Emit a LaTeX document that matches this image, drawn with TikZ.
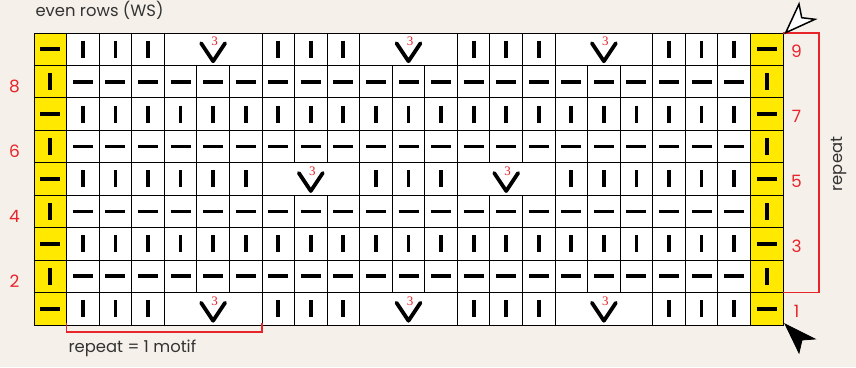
\documentclass[tikz,border=0pt]{standalone}
\usepackage{fontspec}
\setmainfont{Poppins}
\newfontfamily\countfont{Liberation Serif}
\usetikzlibrary{positioning}

\definecolor{paper}{HTML}{F5F1EA}
\definecolor{chartred}{HTML}{E8242B}
\definecolor{edgeyellow}{HTML}{FFE900}
\definecolor{ink}{HTML}{333333}

% chart geometry (cell size and top-left corner)
\def\cw{32.565}
\def\ch{32.44}
\def\gx{34}
\def\gy{33}

\begin{document}
\begin{tikzpicture}[
    x=1pt, y=-1pt,
    cell/.style={
        draw=black,
        line width=0.9pt
    },
    plaincell/.style={
        cell,
        fill=white
    },
    edgecell/.style={
        cell,
        fill=edgeyellow
    },
    stitch/.style={
        line width=3.8pt,
        black
    },
    decmark/.style={
        line width=3.8pt,
        line cap=round,
        line join=round,
        black
    },
    rownum/.style={
        text=chartred,
        font=\fontsize{17}{17}\selectfont
    },
    note/.style={
        text=ink,
        font=\fontsize{16.4}{17}\selectfont
    },
    bracket/.style={
        draw=chartred,
        line width=1.1pt
    },
    knit/.pic={\draw[stitch] (0,-8.5) -- (0,8.5);},
    purl/.pic={\draw[stitch] (-10,0) -- (10,0);},
    dec/.pic={
        \draw[decmark] (-12,-6) -- (0,12) -- (12,-6);
        \node[text=chartred, font=\countfont\fontsize{13}{13}\selectfont] at (1.5,-7.5) {3};
    },
    startmark/.style={
        fill=black,
        draw=black,
        line width=0.8pt
    },
    endmark/.style={
        fill=white,
        draw=black,
        line width=1.5pt
    }
]
    % Background
    \fill[paper] (0,0) rectangle (856,367);
    \useasboundingbox (0,0) rectangle (856,367);

    % Chart rows: start column / boxes / cells per box / symbol
    \foreach \r/\runs in {
        9/{1/3/1/knit, 4/1/3/dec, 7/3/1/knit, 10/1/3/dec, 13/3/1/knit, 16/1/3/dec, 19/3/1/knit},
        8/{1/21/1/purl},
        7/{1/21/1/knit},
        6/{1/21/1/purl},
        5/{1/6/1/knit, 7/1/3/dec, 10/3/1/knit, 13/1/3/dec, 16/6/1/knit},
        4/{1/21/1/purl},
        3/{1/21/1/knit},
        2/{1/21/1/purl},
        1/{1/3/1/knit, 4/1/3/dec, 7/3/1/knit, 10/1/3/dec, 13/3/1/knit, 16/1/3/dec, 19/3/1/knit}} {
        \pgfmathsetmacro\ytop{\gy+(9-\r)*\ch}
        \pgfmathsetmacro\ybot{\ytop+\ch}
        \foreach \s/\b/\m/\k in \runs {
            \foreach \i in {1,...,\b} {
                \pgfmathsetmacro\xl{\gx+(\s+(\i-1)*\m)*\cw}
                \pgfmathsetmacro\xr{\xl+\m*\cw}
                \draw[plaincell] (\xl,\ytop) rectangle (\xr,\ybot);
                \pic at ({(\xl+\xr)/2},{(\ytop+\ybot)/2}) {\k};
            }
        }
    }

    % Yellow edge stitches
    \foreach \r/\k in {9/purl, 8/knit, 7/purl, 6/knit, 5/purl, 4/knit, 3/purl, 2/knit, 1/purl} {
        \pgfmathsetmacro\ytop{\gy+(9-\r)*\ch}
        \foreach \c in {0,22} {
            \pgfmathsetmacro\xl{\gx+\c*\cw}
            \draw[edgecell] (\xl,\ytop) rectangle ++(\cw,\ch);
            \pic at ({\xl+\cw/2},{\ytop+\ch/2}) {\k};
        }
    }

    % Corners
    \coordinate (grid-nw) at (\gx,\gy);
    \coordinate (grid-ne) at ({\gx+23*\cw},\gy);
    \coordinate (grid-se) at ({\gx+23*\cw},{\gy+9*\ch});
    \coordinate (motif-l) at ({\gx+\cw},{\gy+9*\ch});
    \coordinate (motif-r) at ({\gx+7*\cw},{\gy+9*\ch});
    \coordinate (row1-top) at ({\gx+23*\cw},{\gy+8*\ch});
    \draw[cell] (grid-nw) rectangle (grid-se);

    % Row numbers
    \foreach \r in {1,3,5,7,9}
        \node[rownum] (row-\r) at (796.5,{\gy+(9-\r)*\ch+\ch/2+2.5}) {\r};
    \foreach \r in {2,4,6,8}
        \node[rownum] (row-\r) at (14.5,{\gy+(9-\r)*\ch+\ch/2+4.5}) {\r};

    % Repeat brackets
    \draw[bracket] (grid-ne) -- ++(36,0) |- (row1-top);
    \draw[bracket] ([yshift=1.5]motif-l) -- ++(0,8.5) -| ([yshift=1.5]motif-r);

    % Labels
    \node[note, anchor=west] (ws-label) at (32,10) {even rows (WS)};
    \node[note, anchor=west] (motif-label) at (65,348) {repeat = 1 motif};
    \node[note, rotate=90] (repeat-label) at (839,164) {repeat};

    % Start and end marks
    \coordinate (start-tip) at (785,324);
    \coordinate (end-tip) at (785.7,32.7);
    \draw[startmark] (start-tip) -- ++(14,29) -- ++(3,-13) -- ++(13,-1) -- cycle;
    \draw[endmark] (end-tip) -- ++(13.3,-28.7) -- ++(2.7,13.7) -- ++(13.3,1.6) -- cycle;
\end{tikzpicture}
\end{document}
